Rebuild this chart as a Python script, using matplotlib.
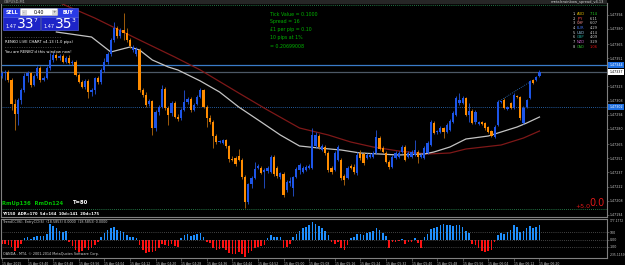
import numpy as np
import matplotlib
matplotlib.use("Agg")
import matplotlib.pyplot as plt
from matplotlib.patches import Rectangle, FancyBboxPatch

# GBPUSD M1 bars, prices in points above 1.47000
open_pts = [333, 336, 337, 329, 305, 295, 309, 319, 333, 336,
            324, 333, 341, 329, 331, 341, 349, 354, 351, 353,
            347, 351, 346, 347, 334, 327, 322, 328, 317, 319,
            331, 327, 339, 347, 355, 369, 381, 373, 379, 376,
            369, 359, 355, 359, 319, 314, 305, 308, 281, 297,
            302, 320, 301, 296, 306, 292, 291, 299, 307, 310,
            299, 305, 312, 319, 302, 291, 287, 273, 267, 266,
            269, 263, 250, 251, 253, 249, 232, 207, 225, 231,
            241, 241, 237, 238, 237, 252, 241, 232, 235, 219,
            226, 221, 232, 239, 237, 239, 241, 241, 263, 273,
            259, 262, 256, 241, 239, 249, 249, 233, 231, 243,
            242, 236, 256, 255, 251, 252, 252, 256, 271, 261,
            256, 247, 242, 251, 252, 257, 262, 252, 252, 254,
            257, 252, 251, 256, 264, 286, 277, 277, 281, 277,
            279, 287, 294, 306, 306, 311, 294, 298, 287, 285,
            287, 286, 282, 278, 272, 284, 307, 309, 300, 306,
            301, 313, 312, 286, 302, 311, 329, 329, 333]
high_pts = [338, 339, 339, 331, 310, 311, 321, 336, 338, 337,
            335, 343, 343, 333, 343, 356, 357, 356, 355, 355,
            353, 354, 349, 349, 336, 329, 330, 330, 321, 332,
            333, 341, 351, 357, 371, 387, 383, 381, 396, 381,
            371, 364, 362, 361, 321, 317, 310, 309, 299, 304,
            324, 322, 303, 308, 308, 295, 301, 319, 312, 312,
            306, 314, 321, 320, 304, 294, 289, 275, 269, 270,
            270, 264, 253, 253, 260, 251, 234, 226, 233, 247,
            245, 243, 241, 243, 254, 254, 243, 237, 237, 229,
            232, 233, 242, 246, 243, 244, 245, 281, 277, 275,
            265, 264, 258, 243, 258, 264, 251, 235, 243, 245,
            245, 257, 259, 257, 256, 256, 258, 279, 273, 263,
            258, 249, 254, 258, 258, 264, 264, 258, 259, 269,
            259, 256, 263, 268, 289, 288, 279, 283, 282, 286,
            290, 298, 313, 316, 313, 312, 306, 300, 299, 288,
            288, 287, 283, 279, 284, 309, 308, 311, 303, 307,
            316, 314, 313, 303, 310, 329, 330, 333, 339]
low_pts = [331, 329, 327, 299, 279, 284, 305, 317, 327, 322,
           323, 331, 327, 328, 330, 339, 347, 349, 349, 346,
           346, 345, 344, 333, 326, 321, 320, 311, 313, 315,
           325, 325, 337, 345, 353, 367, 371, 371, 369, 367,
           361, 357, 353, 317, 312, 302, 303, 274, 278, 294,
           301, 299, 284, 293, 291, 288, 289, 298, 305, 297,
           298, 304, 311, 301, 282, 285, 261, 265, 266, 265,
           261, 247, 248, 243, 248, 230, 201, 205, 221, 230,
           240, 235, 221, 236, 236, 233, 231, 230, 212, 217,
           223, 213, 231, 235, 236, 238, 240, 240, 261, 260,
           258, 254, 237, 235, 238, 248, 229, 224, 230, 240,
           235, 234, 249, 244, 250, 251, 251, 255, 259, 256,
           246, 240, 241, 250, 251, 256, 248, 251, 251, 253,
           246, 251, 250, 255, 263, 275, 275, 276, 271, 276,
           278, 286, 293, 304, 305, 293, 287, 285, 285, 284,
           284, 279, 276, 272, 271, 283, 306, 300, 299, 300,
           300, 311, 289, 285, 301, 310, 325, 328, 332]
close_pts = [336, 337, 329, 305, 295, 309, 319, 333, 336, 324,
             333, 341, 329, 331, 341, 349, 354, 351, 353, 347,
             351, 346, 347, 334, 327, 322, 328, 317, 319, 331,
             327, 339, 347, 355, 369, 381, 373, 379, 376, 369,
             363, 362, 360, 319, 314, 304, 308, 281, 297, 302,
             320, 301, 294, 306, 292, 290, 299, 307, 310, 299,
             304, 312, 319, 302, 291, 287, 273, 267, 268, 269,
             263, 250, 249, 245, 249, 232, 207, 225, 231, 240,
             243, 236, 239, 241, 252, 235, 233, 236, 214, 227,
             228, 232, 240, 244, 241, 242, 243, 274, 274, 262,
             263, 256, 239, 237, 256, 262, 231, 229, 241, 241,
             237, 254, 251, 246, 254, 254, 256, 272, 260, 257,
             247, 242, 252, 256, 256, 262, 249, 256, 257, 259,
             252, 254, 261, 266, 287, 276, 278, 281, 277, 284,
             288, 296, 311, 309, 311, 294, 298, 286, 297, 287,
             285, 281, 277, 273, 282, 307, 308, 301, 302, 301,
             314, 312, 291, 301, 309, 328, 326, 332, 337]

# moving averages read at a few bars
white_ma_bar = [17, 28, 34, 40, 43, 47, 52, 55, 62, 68, 74, 81, 87, 93, 99,
                106, 112, 118, 124, 132, 135, 140, 145, 152, 156, 161, 164, 168]
white_ma_pts = [377, 372, 357, 362, 359, 349, 342, 339, 328, 317, 302, 287, 274, 263, 261,
                259, 256, 255, 254, 255, 257, 262, 270, 273, 277, 282, 286, 292]
red_ma_bar = [16, 29, 43, 54, 62, 74, 83, 93, 102, 109, 116, 124, 133, 140, 145, 156, 163, 168]
red_ma_pts = [409, 391, 369, 352, 339, 316, 299, 281, 274, 267, 262, 258, 255, 256, 260, 264, 271, 278]
trend_bar = [155, 165]
trend_pts = [307, 327]

# TrendCCI histogram
cci = [-60, -55, -70, -95, -150, -120, -60, 20, 30, 10,
       30, 45, 50, 45, 80, 215, 180, 150, 120, 100,
       110, -30, -90, -140, -165, -150, -120, -140, -110, -70,
       -40, 40, 90, 130, 160, 175, 130, 110, 100, 60,
       40, 30, 20, -80, -140, -180, -170, -175, -150, -120,
       -60, -80, -90, -60, -90, -100, 20, 60, 70, 50,
       60, 80, 90, 40, -30, -50, -110, -140, -130, -120,
       -140, -180, -190, -200, -170, -200, -230, -180, -150, -110,
       -100, -90, -70, 20, 60, 40, 30, 40, -120, -100,
       -60, 30, 80, 120, 150, 170, 190, 230, 210, 180,
       150, 120, 60, -40, -60, -30, -120, -140, -80, 20,
       30, 70, 80, 60, 90, 100, 110, 150, 130, 90,
       50, -110, -40, -30, -20, 10, -60, -40, -30, 20,
       -50, -110, 40, 80, 140, 150, 170, 190, 215, 200,
       190, 180, 200, 190, 170, 120, 90, -60, -80, -120,
       -160, -170, -150, -140, -40, 60, 90, 80, 100, 130,
       190, 170, 100, 120, 150, 180, 160, 170, 190]

price_ticks = [1.47394, 1.47380, 1.47365, 1.47351, 1.47323, 1.47308, 1.47294,
               1.47280, 1.47265, 1.47251, 1.47237, 1.47222, 1.47208, 1.47194]
time_labels = ["15 Apr 2015", "15 Apr 03:40", "15 Apr 03:48", "15 Apr 03:56", "15 Apr 04:04",
               "15 Apr 04:12", "15 Apr 04:20", "15 Apr 04:28", "15 Apr 04:36", "15 Apr 04:44",
               "15 Apr 04:52", "15 Apr 05:00", "15 Apr 05:08", "15 Apr 05:16", "15 Apr 05:24",
               "15 Apr 05:32", "15 Apr 05:40", "15 Apr 05:48", "15 Apr 05:56", "15 Apr 06:04",
               "15 Apr 06:12", "15 Apr 06:20"]
time_bars = [0, 8, 16, 24, 32, 40, 48, 56, 64, 72, 80, 88, 96, 104, 112, 120,
             128, 136, 144, 152, 160, 168]

currencies = ["AUD", "JPY", "CHF", "EUR", "USD", "GBP", "NZD", "CAD"]
strength = [7.14, 6.11, 6.07, 4.29, 4.14, 4.09, 3.29, 1.06]
cur_colors = ["#e8c000", "#ff4a4a", "#ff9090", "#3f6fe8", "#9ad0f0", "#20b0a0", "#d060d0", "#30c030"]
info_lines = ["Tick Value = 0.1000", "Spread = 16", "£1 per pip = 0.10", "10 pips at 1%", "= 0.20699008"]

line_blue = 1.47344
bid = 1.47337
ask_line = 1.47302
green_top = 1.47404
green_bottom = 1.47200

BASE = 1.47
o = BASE + np.array(open_pts) / 1e5
h = BASE + np.array(high_pts) / 1e5
l = BASE + np.array(low_pts) / 1e5
c = BASE + np.array(close_pts) / 1e5
bars = np.arange(len(o))
bull = c >= o

W, H = 625, 265
GRAY = "#808080"
TXT = "#c8c8c8"
AX_FS = 2.35


def px_box(x0, y0, x1, y1):
    return [x0 / W, 1 - y1 / H, (x1 - x0) / W, (y1 - y0) / H]


fig = plt.figure(figsize=(6.25, 2.65), dpi=100, facecolor="black")
ax = fig.add_axes(px_box(1, 3, 607, 217))
axi = fig.add_axes(px_box(1, 218.5, 607, 258))

for a in (ax, axi):
    a.set_facecolor("black")
    for s in a.spines.values():
        s.set_color(GRAY)
        s.set_linewidth(0.8)
    a.yaxis.tick_right()
    a.tick_params(axis="y", colors=GRAY, labelcolor=TXT, labelsize=AX_FS,
                  length=1.2, width=0.4, pad=0.8)

# main price chart
ax.set_xlim(-0.3, 189.1)
ax.set_ylim(BASE + 192 / 1e5, BASE + 406 / 1e5)
ax.set_xticks([])
ax.set_yticks(price_ticks)
ax.set_yticklabels([f"{v:.5f}" for v in price_ticks])

ax.axhline(green_top, color="#2e9a5a", lw=0.6, ls=(0, (1, 1.5)))
ax.axhline(green_bottom, color="#2e9a5a", lw=0.6, ls=(0, (1, 1.5)))
ax.axhline(ask_line, color="#2f78d0", lw=0.6, ls=(0, (1, 1.5)))
ax.axhline(line_blue, color="#3a7cc8", lw=0.9)
ax.axhline(bid, color="#4c5866", lw=0.9)

ax.plot(red_ma_bar, BASE + np.array(red_ma_pts) / 1e5, color="#7e1818", lw=0.9)
ax.plot(white_ma_bar, BASE + np.array(white_ma_pts) / 1e5, color="#c4c4c4", lw=0.9)
ax.plot(trend_bar, BASE + np.array(trend_pts) / 1e5, color="#2f78d0", lw=0.6, ls=(0, (1, 1.5)))

wick_col = np.where(bull, "#2454d8", "#b86a0c")
body_col = np.where(bull, "#1d55e8", "#ff8c00")
ax.vlines(bars, l, h, colors=wick_col, lw=0.6, zorder=3)
body_h = np.maximum(np.abs(c - o), 0.6e-5)
ax.bar(bars, body_h, bottom=np.minimum(o, c), width=0.7, color=body_col, lw=0, zorder=4)

# price labels on the right scale
for val, fc, tc in [(line_blue, "#1e6fe0", "white"), (bid, "white", "black"),
                    (ask_line, "#1e6fe0", "white")]:
    ax.annotate(f"{val:.5f}", xy=(1, val), xycoords=ax.get_yaxis_transform(),
                xytext=(1.6, 0), textcoords="offset points", ha="left", va="center",
                fontsize=AX_FS, color=tc, annotation_clip=False,
                bbox=dict(boxstyle="square,pad=0.3", fc=fc, ec="none"))

# indicator panel
axi.set_xlim(-0.3, 189.1)
axi.set_ylim(-250, 284)
axi.bar(bars, cci, width=0.5, color=np.where(np.array(cci) >= 0, "#1e8fff", "#ff1010"), lw=0)
for lev in (100, 0, -100):
    axi.axhline(lev, color=GRAY, lw=0.5, ls=(0, (1, 2)))
axi.set_yticks([100, 0, -100])
axi.set_yticklabels(["100", "0.00", "-100"])
axi.set_xticks(time_bars)
axi.set_xticklabels(time_labels)
axi.tick_params(axis="x", colors=GRAY, labelcolor=TXT, labelsize=2.25,
                length=2, width=0.4, pad=0.8)
for t in axi.get_xticklabels():
    t.set_ha("left")
axi.text(1.004, 0.99, "177.1772", transform=axi.transAxes, fontsize=2.2,
         color=TXT, va="top", ha="left")
axi.text(1.004, 0.02, "-235.1159", transform=axi.transAxes, fontsize=2.2,
         color=TXT, va="bottom", ha="left")

# overlay for chart objects and labels, in pixel units
ov = fig.add_axes([0, 0, 1, 1], zorder=10)
ov.set_xlim(0, W)
ov.set_ylim(H, 0)
ov.axis("off")
ov.patch.set_alpha(0)

ov.add_patch(Rectangle((0, 0), 607, 3.5, fc="#262626", ec="none"))
ov.text(4, 1.9, "GBPUSD,M1", fontsize=2.6, color="#b0b0b0", va="center", ha="left")
ov.text(604, 1.9, "metalsrainbow_spread_v4.13", fontsize=2.6, color="#d0d0d0",
        va="center", ha="right")

# trade panel
for x0, lab in [(3, "SELL"), (41, "BUY")]:
    ov.add_patch(Rectangle((x0, 8), 36.5, 9, fc="#2a3ae6", ec="#5a6af0", lw=0.4))
    ov.add_patch(Rectangle((x0, 17), 36.5, 13, fc="#1d24c8", ec="#5a6af0", lw=0.4))
ov.text(5.5, 12.6, "SELL", fontsize=3.4, color="white", fontweight="bold", va="center")
ov.text(63, 12.6, "BUY", fontsize=3.4, color="white", fontweight="bold", va="center")
ov.add_patch(FancyBboxPatch((20.5, 8.8), 37, 6.6, boxstyle="round,pad=0.3,rounding_size=1.2",
                            fc="white", ec="#a0a0a0", lw=0.4))
ov.add_patch(Rectangle((21.5, 9.6), 5, 5, fc="#d8d8d8", ec="none"))
ov.add_patch(Rectangle((52, 9.6), 5, 5, fc="#d8d8d8", ec="none"))
ov.text(24, 12.2, "-", fontsize=3, color="#404040", ha="center", va="center")
ov.text(54.5, 12.2, "+", fontsize=3, color="#404040", ha="center", va="center")
ov.text(39.5, 12.2, "0.40", fontsize=3.4, color="black", ha="center", va="center")
for x0, big, small in [(6, "33", "7"), (44, "35", "3")]:
    ov.text(x0, 27.5, "1.47", fontsize=3.6, color="white", va="baseline")
    ov.text(x0 + 11, 28.5, big, fontsize=10, color="white", va="baseline")
    ov.text(x0 + 27.5, 22, small, fontsize=4.2, color="white", va="baseline")

ov.text(5, 37.2, "- " * 24, fontsize=2.6, color="white", va="center")
ov.text(5, 42, "RENKO LIVE CHART v4.13 (1.0 pips)", fontsize=2.7, color="white", va="center")
ov.text(5, 47, "- " * 24, fontsize=2.6, color="white", va="center")
ov.text(5, 52, "You are RENKO'd this window now!", fontsize=2.7, color="white", va="center")

for i, line in enumerate(info_lines):
    ov.text(270, 14 + 8 * i, line, fontsize=3.4, color="#00b400", va="center")

for i, (cur, val, col) in enumerate(zip(currencies, strength, cur_colors)):
    y = 14 + 4.7 * i
    vcol = "#20d020" if i == 0 else ("#e01010" if i == len(currencies) - 1 else "#d0d0d0")
    ov.text(573, y, f"{i + 1}.", fontsize=2.6, color="#d0d0d0", va="center")
    ov.text(577, y, cur, fontsize=2.6, color=col, va="center")
    ov.text(590, y, f"{val:.2f}", fontsize=2.6, color=vcol, va="center")

ov.text(2, 203, "RmUp136  RmDn124", fontsize=3.8, color="#00c000", fontweight="bold", va="center")
ov.text(72, 203, "T=80", fontsize=3.8, color="white", fontweight="bold", va="center")
ov.text(2, 214, "YY150  ADR=170  5d=164  10d=141  20d=175", fontsize=2.7, color="white",
        fontweight="bold", va="center")
ov.text(605, 203, "0.0", fontsize=7, color="#e01818", ha="right", va="center")
ov.text(575, 207, "+5.0", fontsize=4.5, color="#e01818", ha="left", va="center")

ov.text(3, 222, "TrendCCI(6), EntryCCI(6)  (18.5853) 0.0000  (18.5853) 0.0000",
        fontsize=2.4, color="#d0d0d0", va="center")
ov.text(3, 254.5, "OANDA - MT4, © 2001-2014 MetaQuotes Software Corp.",
        fontsize=2.4, color="#d0d0d0", va="center")

fig.savefig("out.png", dpi=100, facecolor="black")
